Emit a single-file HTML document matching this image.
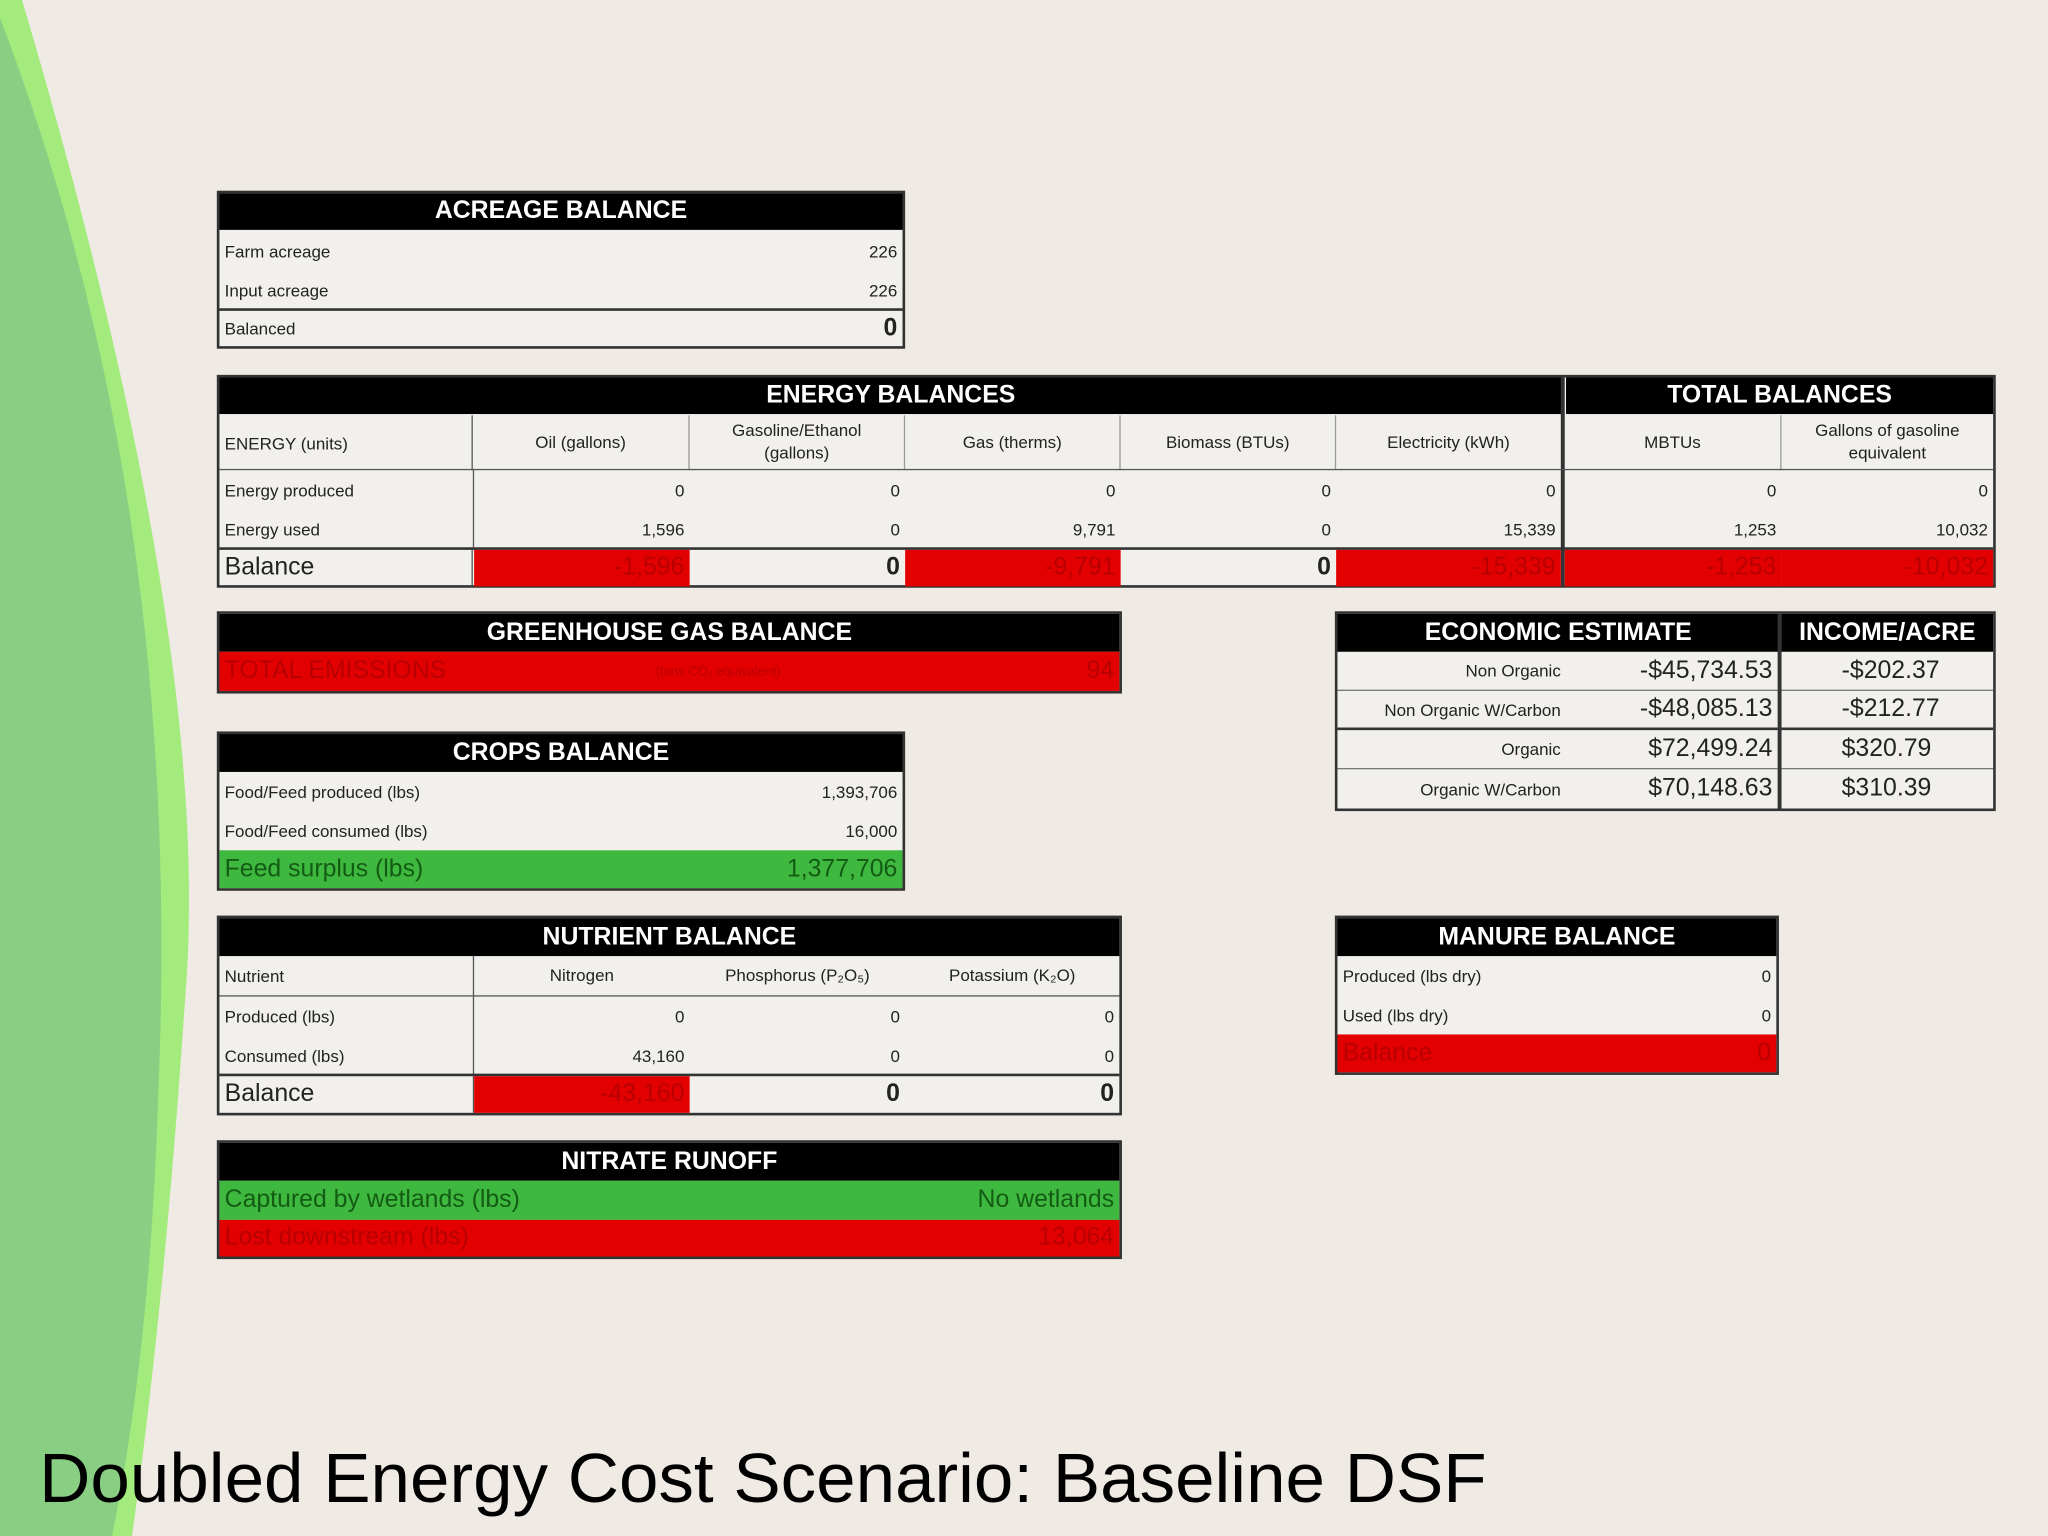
<!DOCTYPE html>
<html><head><meta charset="utf-8"><style>
html,body{margin:0;padding:0}
body{width:2048px;height:1536px;background:#efeae3;position:relative;overflow:hidden;font-family:"Liberation Sans",sans-serif}
#bg{position:absolute;left:0;top:0}
#w{position:absolute;left:0;top:0;width:1568px;height:1176px;transform:scale(1.30612);transform-origin:0 0}
.b{position:absolute;box-sizing:border-box;border:2px solid #333;background:#f2f0ec}
.c{position:absolute;box-sizing:border-box;font-size:13px;color:#222;white-space:nowrap;overflow:hidden;display:flex;align-items:center;padding:0 4px}
.h{background:#000;color:#fff;font-weight:bold;font-size:19px;justify-content:center}
.r{justify-content:flex-end}
.m{justify-content:center;text-align:center;white-space:normal;line-height:1.3}
.red{background:#e30000;color:#b80000}
.grn{background:#3fb83f;color:#135c13}
.big{font-size:19px}
.bt{border-top:2px solid #333}
</style></head><body>
<svg id="bg" width="2048" height="1536">
<path d="M0,0 L22,0 Q215,650 185,1000 Q165,1300 132,1536 L0,1536Z" fill="#a3eb7c"/>
<path d="M0,18 Q185,500 158,1100 Q150,1350 112,1536 L0,1536Z" fill="#88cf84"/>
</svg>
<div id="w">
<div class="b" style="left:166px;top:146px;width:527px;height:121px">
<div class="c h" style="left:0;top:0;width:523px;height:28px">ACREAGE BALANCE</div>
<div class="c" style="left:0;top:29px;width:300px;height:30px">Farm acreage</div>
<div class="c r" style="right:0;top:29px;width:100px;height:30px">226</div>
<div class="c" style="left:0;top:59px;width:300px;height:30px">Input acreage</div>
<div class="c r" style="right:0;top:59px;width:100px;height:30px">226</div>
<div class="c bt" style="left:0;top:88px;width:523px;height:29px"><span style="flex:1">Balanced</span><span class="big" style="font-weight:bold">0</span></div>
</div>
<div class="b" style="left:166px;top:287px;width:1362px;height:163px">
<div class="c h" style="left:0;top:0;width:1028px;height:28px">ENERGY BALANCES</div>
<div class="c h" style="left:1031px;top:0;width:327px;height:28px">TOTAL BALANCES</div>
<div style="position:absolute;left:1027px;top:0;width:3px;height:160px;background:#333"></div>
<div class="c" style="left:0;top:29px;width:194px;height:42px;border-right:1px solid #555">ENERGY (units)</div>
<div class="c m" style="left:194px;top:29px;width:166px;height:42px;border-right:1px solid #999">Oil (gallons)</div>
<div class="c m" style="left:360px;top:29px;width:165px;height:42px;border-right:1px solid #999;padding:0 22px">Gasoline/Ethanol (gallons)</div>
<div class="c m" style="left:525px;top:29px;width:165px;height:42px;border-right:1px solid #999">Gas (therms)</div>
<div class="c m" style="left:690px;top:29px;width:165px;height:42px;border-right:1px solid #999">Biomass (BTUs)</div>
<div class="c m" style="left:855px;top:29px;width:172px;height:42px">Electricity (kWh)</div>
<div class="c m" style="left:1030px;top:29px;width:166px;height:42px;border-right:1px solid #999">MBTUs</div>
<div class="c m" style="left:1196px;top:29px;width:162px;height:42px;padding:0 20px">Gallons of gasoline equivalent</div>
<div style="position:absolute;left:0;top:70px;width:1358px;height:1px;background:#555"></div>
<div style="position:absolute;left:194px;top:70px;width:1px;height:60px;background:#555"></div>
<div class="c" style="left:0;top:71px;width:194px;height:30px">Energy produced</div>
<div class="c r" style="left:194px;top:71px;width:166px;height:30px">0</div>
<div class="c r" style="left:360px;top:71px;width:165px;height:30px">0</div>
<div class="c r" style="left:525px;top:71px;width:165px;height:30px">0</div>
<div class="c r" style="left:690px;top:71px;width:165px;height:30px">0</div>
<div class="c r" style="left:855px;top:71px;width:172px;height:30px">0</div>
<div class="c r" style="left:1030px;top:71px;width:166px;height:30px">0</div>
<div class="c r" style="left:1196px;top:71px;width:162px;height:30px">0</div>
<div class="c" style="left:0;top:101px;width:194px;height:30px">Energy used</div>
<div class="c r" style="left:194px;top:101px;width:166px;height:30px">1,596</div>
<div class="c r" style="left:360px;top:101px;width:165px;height:30px">0</div>
<div class="c r" style="left:525px;top:101px;width:165px;height:30px">9,791</div>
<div class="c r" style="left:690px;top:101px;width:165px;height:30px">0</div>
<div class="c r" style="left:855px;top:101px;width:172px;height:30px">15,339</div>
<div class="c r" style="left:1030px;top:101px;width:166px;height:30px">1,253</div>
<div class="c r" style="left:1196px;top:101px;width:162px;height:30px">10,032</div>
<div style="position:absolute;left:0;top:130px;width:1358px;height:2px;background:#333"></div>
<div class="c big" style="left:0;top:132px;width:194px;height:28px;border-right:1px solid #555">Balance</div>
<div class="c r big red" style="left:195px;top:132px;width:165px;height:28px">-1,596</div>
<div class="c r big" style="left:360px;top:132px;width:165px;height:28px;font-weight:bold">0</div>
<div class="c r big red" style="left:525px;top:132px;width:165px;height:28px">-9,791</div>
<div class="c r big" style="left:690px;top:132px;width:165px;height:28px;font-weight:bold">0</div>
<div class="c r big red" style="left:855px;top:132px;width:172px;height:28px">-15,339</div>
<div class="c r big red" style="left:1030px;top:132px;width:166px;height:28px">-1,253</div>
<div class="c r big red" style="left:1196px;top:132px;width:162px;height:28px">-10,032</div>
</div>
<div class="b" style="left:166px;top:468px;width:693px;height:63px">
<div class="c h" style="left:0;top:0;width:689px;height:29px">GREENHOUSE GAS BALANCE</div>
<div class="c big red" style="left:0;top:29px;width:689px;height:30px"><span style="flex:1">TOTAL EMISSIONS</span><span style="font-size:10px;flex:1">(tons CO₂ equivalent)</span><span>94</span></div>
</div>
<div class="b" style="left:1022px;top:468px;width:506px;height:153px">
<div class="c h" style="left:0;top:0;width:338px;height:29px">ECONOMIC ESTIMATE</div>
<div class="c h" style="left:340px;top:0;width:162px;height:29px">INCOME/ACRE</div>
<div style="position:absolute;left:337px;top:0;width:3px;height:150px;background:#333"></div>
<div class="c r" style="left:0;top:29px;width:175px;height:30px;border-bottom:1px solid #777">Non Organic</div>
<div class="c r big" style="left:175px;top:29px;width:162px;height:30px;border-bottom:1px solid #777">-$45,734.53</div>
<div class="c big" style="left:340px;top:29px;width:162px;height:30px;border-bottom:1px solid #777;padding-left:46px">-$202.37</div>
<div class="c r" style="left:0;top:59px;width:175px;height:30px;border-bottom:2px solid #333">Non Organic W/Carbon</div>
<div class="c r big" style="left:175px;top:59px;width:162px;height:30px;border-bottom:2px solid #333">-$48,085.13</div>
<div class="c big" style="left:340px;top:59px;width:162px;height:30px;border-bottom:2px solid #333;padding-left:46px">-$212.77</div>
<div class="c r" style="left:0;top:89px;width:175px;height:30px;border-bottom:1px solid #777">Organic</div>
<div class="c r big" style="left:175px;top:89px;width:162px;height:30px;border-bottom:1px solid #777">$72,499.24</div>
<div class="c big" style="left:340px;top:89px;width:162px;height:30px;border-bottom:1px solid #777;padding-left:46px">$320.79</div>
<div class="c r" style="left:0;top:119px;width:175px;height:30px">Organic W/Carbon</div>
<div class="c r big" style="left:175px;top:119px;width:162px;height:30px">$70,148.63</div>
<div class="c big" style="left:340px;top:119px;width:162px;height:30px;padding-left:46px">$310.39</div>
</div>
<div class="b" style="left:166px;top:560px;width:527px;height:122px">
<div class="c h" style="left:0;top:0;width:523px;height:29px">CROPS BALANCE</div>
<div class="c" style="left:0;top:29px;width:523px;height:30px"><span style="flex:1">Food/Feed produced (lbs)</span><span>1,393,706</span></div>
<div class="c" style="left:0;top:59px;width:523px;height:30px"><span style="flex:1">Food/Feed consumed (lbs)</span><span>16,000</span></div>
<div class="c big grn" style="left:0;top:89px;width:523px;height:29px"><span style="flex:1">Feed surplus (lbs)</span><span>1,377,706</span></div>
</div>
<div class="b" style="left:166px;top:701px;width:693px;height:153px">
<div class="c h" style="left:0;top:0;width:689px;height:29px">NUTRIENT BALANCE</div>
<div style="position:absolute;left:194px;top:29px;width:1px;height:120px;background:#555"></div>
<div class="c" style="left:0;top:29px;width:194px;height:30px">Nutrient</div>
<div class="c m" style="left:195px;top:29px;width:165px;height:30px">Nitrogen</div>
<div class="c m" style="left:360px;top:29px;width:165px;height:30px">Phosphorus (P₂O₅)</div>
<div class="c m" style="left:525px;top:29px;width:164px;height:30px">Potassium (K₂O)</div>
<div style="position:absolute;left:0;top:59px;width:689px;height:1px;background:#555"></div>
<div class="c" style="left:0;top:60px;width:194px;height:30px">Produced (lbs)</div>
<div class="c r" style="left:195px;top:60px;width:165px;height:30px">0</div>
<div class="c r" style="left:360px;top:60px;width:165px;height:30px">0</div>
<div class="c r" style="left:525px;top:60px;width:164px;height:30px">0</div>
<div class="c" style="left:0;top:90px;width:194px;height:30px">Consumed (lbs)</div>
<div class="c r" style="left:195px;top:90px;width:165px;height:30px">43,160</div>
<div class="c r" style="left:360px;top:90px;width:165px;height:30px">0</div>
<div class="c r" style="left:525px;top:90px;width:164px;height:30px">0</div>
<div style="position:absolute;left:0;top:119px;width:689px;height:2px;background:#333"></div>
<div class="c big" style="left:0;top:121px;width:194px;height:28px">Balance</div>
<div class="c r big red" style="left:195px;top:121px;width:165px;height:28px">-43,160</div>
<div class="c r big" style="left:360px;top:121px;width:165px;height:28px;font-weight:bold">0</div>
<div class="c r big" style="left:525px;top:121px;width:164px;height:28px;font-weight:bold">0</div>
</div>
<div class="b" style="left:1022px;top:701px;width:340px;height:122px">
<div class="c h" style="left:0;top:0;width:336px;height:29px">MANURE BALANCE</div>
<div class="c" style="left:0;top:29px;width:336px;height:30px"><span style="flex:1">Produced (lbs dry)</span><span>0</span></div>
<div class="c" style="left:0;top:59px;width:336px;height:30px"><span style="flex:1">Used (lbs dry)</span><span>0</span></div>
<div class="c big red" style="left:0;top:89px;width:336px;height:29px"><span style="flex:1">Balance</span><span>0</span></div>
</div>
<div class="b" style="left:166px;top:873px;width:693px;height:91px">
<div class="c h" style="left:0;top:0;width:689px;height:29px">NITRATE RUNOFF</div>
<div class="c big grn" style="left:0;top:29px;width:689px;height:30px"><span style="flex:1">Captured by wetlands (lbs)</span><span>No wetlands</span></div>
<div class="c big red" style="left:0;top:59px;width:689px;height:28px"><span style="flex:1">Lost downstream (lbs)</span><span>13,064</span></div>
</div>
<div style="position:absolute;left:30px;top:1102px;font-size:53px;color:#000;white-space:nowrap;transform:scaleX(1.025);transform-origin:0 0">Doubled Energy Cost Scenario: Baseline DSF</div>
</div>
</body></html>
